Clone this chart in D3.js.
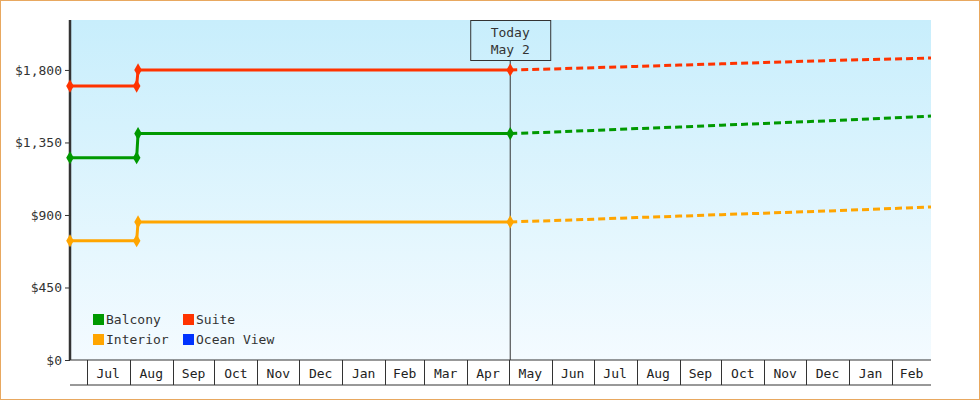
<!DOCTYPE html>
<html><head><meta charset="utf-8">
<script src="https://cdn.jsdelivr.net/npm/d3@7"></script>
<style>
body{margin:0;background:#fff;}
svg{display:block;font-family:"DejaVu Sans Mono",monospace;font-size:13px;}
</style></head>
<body><svg id="c" width="980" height="400"></svg>
<script>
// History points (date, value) per cabin type.
var historyDates = ["2022-06-19", "2022-08-06", "2022-08-07", "2023-05-02"];
var suiteHist = [1700, 1700, 1800, 1800];
var balconyHist = [1255, 1255, 1405, 1405];
var interiorHist = [740, 740, 857, 857];
// Forecast points.
var forecastDates = ["2023-05-02", "2023-06-01", "2023-07-01", "2023-08-01", "2023-09-01", "2023-10-01",
	"2023-11-01", "2023-12-01", "2024-01-01", "2024-02-01", "2024-02-29"];
var suiteFc = [1800, 1806, 1814, 1822, 1830, 1838, 1846, 1854, 1862, 1868, 1874];
var balconyFc = [1405, 1414, 1425, 1436, 1446, 1457, 1468, 1479, 1490, 1502, 1514];
var interiorFc = [857, 865, 874, 884, 893, 902, 911, 920, 930, 940, 950];
var yTicks = [0, 450, 900, 1350, 1800];
var legendNames = ["Balcony", "Suite", "Interior", "Ocean View"];
var legendColors = ["#009900", "#ff3300", "#ffa500", "#0033ff"];

var parse = d3.timeParse("%Y-%m-%d");
var pL = 70, pR = 931, pT = 20, pB = 360;
var svg = d3.select("#c");
var x = d3.scaleTime().domain([parse("2022-06-19"), parse("2024-02-29")]).range([pL, pR]);
var y = d3.scaleLinear().domain([0, 2110]).range([pB, pT]);

// Frame.
svg.append("rect").attr("x", 0.5).attr("y", 0.5).attr("width", 979).attr("height", 399)
	.attr("fill", "none").attr("stroke", "#e8a860");

// Background gradient.
var g = svg.append("defs").append("linearGradient").attr("id", "bg").attr("x1", 0).attr("y1", 0).attr("x2", 0).attr("y2", 1);
g.append("stop").attr("offset", "0%").attr("stop-color", "#c8eefc");
g.append("stop").attr("offset", "100%").attr("stop-color", "#f4fbff");
svg.append("rect").attr("x", pL).attr("y", pT).attr("width", pR - pL).attr("height", pB - pT).attr("fill", "url(#bg)");

// Y axis.
svg.append("g").attr("transform", "translate(" + pL + ",0)")
	.call(d3.axisLeft(y).tickValues(yTicks).tickSize(5).tickFormat(function(d) { return "$" + d3.format(",")(d); }))
	.call(function(a) {
		a.select(".domain").remove();
		a.selectAll("line").attr("stroke", "#333");
		a.selectAll("text").attr("fill", "#333").style("font-family", "DejaVu Sans Mono").style("font-size", "13px");
	});
svg.append("line").attr("x1", pL).attr("x2", pL).attr("y1", pT).attr("y2", pB)
	.attr("stroke", "#333").attr("stroke-width", 2.5);

// Month band.
var months = d3.timeMonth.range(parse("2022-07-01"), parse("2024-03-01"));
var band = svg.append("g");
band.append("line").attr("x1", pL).attr("x2", pR).attr("y1", pB).attr("y2", pB).attr("stroke", "#333");
band.append("line").attr("x1", pL).attr("x2", pR).attr("y1", 385).attr("y2", 385).attr("stroke", "#333");
months.forEach(function(m) {
	var mx = Math.round(x(m)) + 0.5;
	if (mx < pR - 2) band.append("line").attr("x1", mx).attr("x2", mx).attr("y1", pB).attr("y2", 385).attr("stroke", "#333");
	var nx = Math.min(x(d3.timeMonth.offset(m, 1)), pR);
	band.append("text").attr("x", (x(m) + nx) / 2).attr("y", 378).attr("text-anchor", "middle")
		.attr("fill", "#222").text(d3.timeFormat("%b")(m));
});

// Today marker.
var today = parse("2023-05-02");
svg.append("line").attr("x1", x(today)).attr("x2", x(today)).attr("y1", 60).attr("y2", pB).attr("stroke", "#333");
svg.append("rect").attr("x", x(today) - 39.5).attr("y", 20.5).attr("width", 80).attr("height", 40)
	.attr("fill", "none").attr("stroke", "#333");
svg.append("text").attr("x", x(today)).attr("y", 37).attr("text-anchor", "middle").attr("fill", "#333").text("Today");
svg.append("text").attr("x", x(today)).attr("y", 54).attr("text-anchor", "middle").attr("fill", "#333").text("May 2");

// Series.
var line = d3.line().x(function(d) { return x(d[0]); }).y(function(d) { return y(d[1]); });
var series = [[suiteHist, suiteFc, "#ff3300"], [balconyHist, balconyFc, "#009900"], [interiorHist, interiorFc, "#ffa500"]];
series.forEach(function(s) {
	var h = historyDates.map(function(d, i) { return [parse(d), s[0][i]]; });
	var f = forecastDates.map(function(d, i) { return [parse(d), s[1][i]]; });
	svg.append("path").datum(f).attr("d", line).attr("fill", "none").attr("stroke", s[2])
		.attr("stroke-width", 3).attr("stroke-dasharray", "7,4");
	svg.append("path").datum(h).attr("d", line).attr("fill", "none").attr("stroke", s[2]).attr("stroke-width", 3);
	svg.selectAll(null).data(h).enter().append("path")
		.attr("transform", function(d) { return "translate(" + x(d[0]) + "," + y(d[1]) + ")"; })
		.attr("d", d3.symbol(d3.symbolDiamond, 50)).attr("fill", s[2]);
});

// Legend.
legendNames.forEach(function(n, i) {
	var lx = 93 + (i % 2) * 90, ly = 314 + Math.floor(i / 2) * 20;
	svg.append("rect").attr("x", lx).attr("y", ly).attr("width", 11).attr("height", 11).attr("fill", legendColors[i]);
	svg.append("text").attr("x", lx + 13).attr("y", ly + 10).attr("fill", "#333").text(n);
});
</script></body></html>
